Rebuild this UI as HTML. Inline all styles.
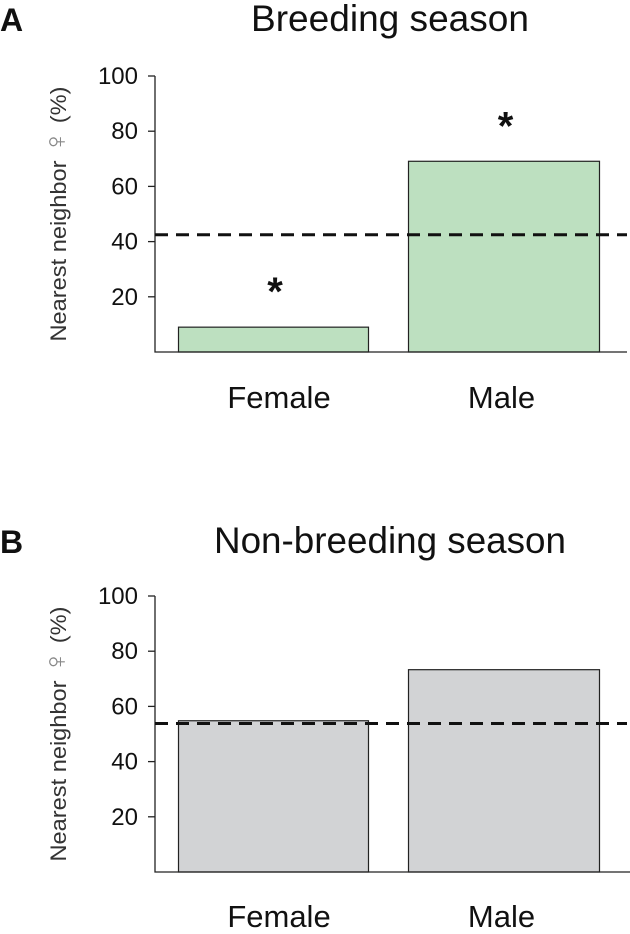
<!DOCTYPE html>
<html><head><meta charset="utf-8"><style>
body{margin:0;background:#fff;}
svg text{font-family:"Liberation Sans",Arial,sans-serif;}
</style></head><body>
<svg id="c" width="630" height="929" xmlns="http://www.w3.org/2000/svg"></svg>
<script>
const categories = ["Female","Male"];
const breedingValues = [9.0, 69.1];
const breedingExpected = 42.5;
const nonBreedingValues = [54.8, 73.3];
const nonBreedingExpected = 53.8;
const tickLabels = [20,40,60,80,100];
const breedingSignificant = [true,true];
const nonBreedingSignificant = [false,false];

const NS="http://www.w3.org/2000/svg";
const svg=document.getElementById('c');
function mk(tag,attrs,parent){const e=document.createElementNS(NS,tag);for(const k in attrs)e.setAttribute(k,attrs[k]);(parent||svg).appendChild(e);return e;}

function panel(cfg){
  const g=mk('g',{});
  
  
  const x0=155,x1=cfg.axisEnd,yBase=cfg.yBase,pxPer=2.76;
  const y=v=>yBase-v*pxPer;
  const barX=[178,408],barW=[190,191];
  const lt=mk('text',{x:0,y:cfg.titleY,'font-size':32,'font-weight':'bold',fill:'#111'},g);lt.textContent=cfg.letter;
  
  const t=mk('text',{x:390,y:cfg.titleY,'font-size':37,'text-anchor':'middle',fill:'#111',textLength:cfg.titleLen,lengthAdjust:'spacingAndGlyphs'},g);t.textContent=cfg.title;
  
  const yt=mk('text',{x:0,y:0,'font-size':22,'text-anchor':'middle',fill:'#333',transform:`translate(66,${y(50)}) rotate(-90)`,textLength:255,lengthAdjust:'spacingAndGlyphs'},g);
  yt.innerHTML='Nearest neighbor <tspan font-size="30" fill="#888">♀</tspan> (%)';
  
  cfg.values.forEach((v,i)=>{
    const r=mk('rect',{x:barX[i]+0.5,y:y(v),width:barW[i],height:yBase-y(v),fill:cfg.color,stroke:'#222','stroke-width':1.2},g);
    
    
    const l=mk('text',{x:barX[i]+barW[i]/2+(i?-2:6),y:cfg.labelY,'font-size':31,'text-anchor':'middle',fill:'#111'},g);
    l.textContent=categories[i];
    
    
    if(cfg.sig[i]){
      const s=mk('text',{x:barX[i]+barW[i]/2+2,y:y(v)-cfg.starGap,'font-size':40,'font-weight':'bold','text-anchor':'middle',fill:'#111'},g);
      s.textContent='*';
      
      
    }
  });
  const ax=mk('path',{d:`M${x0},${y(100)} V${yBase} H${x1}`,stroke:'#222','stroke-width':1.3,fill:'none'},g);
  
  tickLabels.forEach(tv=>{
    const tk=mk('line',{x1:x0-7,x2:x0,y1:y(tv),y2:y(tv),stroke:'#222','stroke-width':1.3},g);
    
    const tl=mk('text',{x:x0-17,y:y(tv)+8,'font-size':24,'text-anchor':'end',fill:'#111'},g);
    tl.textContent=tv;
    
  });
  const d=mk('line',{x1:x0,x2:627,y1:y(cfg.expected),y2:y(cfg.expected),stroke:'#111','stroke-width':3,'stroke-dasharray':'13,8'},g);
  
}
panel({name:'panel-a-breeding',letter:'A',title:'Breeding season',titleLen:278,titleY:31,yBase:352,axisEnd:627,values:breedingValues,expected:breedingExpected,color:'#bde0c0',labelY:408,sig:breedingSignificant,starGap:22});
panel({name:'panel-b-nonbreeding',letter:'B',title:'Non-breeding season',titleLen:352,titleY:553,yBase:872,axisEnd:630,values:nonBreedingValues,expected:nonBreedingExpected,color:'#d2d3d5',labelY:927,sig:nonBreedingSignificant,starGap:22});
</script>
</body></html>
